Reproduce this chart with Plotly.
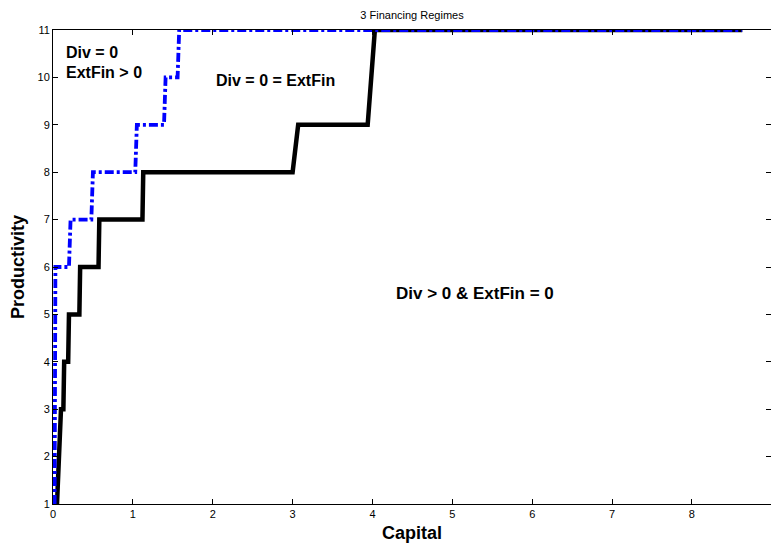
import plotly.graph_objects as go

# Capital thresholds separating the financing regimes, per productivity level
no_div_capital = [0.05, 0.08, 0.10, 0.13, 0.14, 0.19, 0.20, 0.33, 0.34, 0.57, 0.58,
                  1.12, 1.13, 3.00, 3.07, 3.94, 4.03, 8.63]
no_div_prod = [1, 2, 3, 3, 4, 4, 5, 5, 6, 6, 7, 7, 8, 8, 9, 9, 11, 11]

ext_fin_capital = [0.02, 0.03, 0.20, 0.22, 0.48, 0.50, 1.03, 1.05, 1.39, 1.41,
                   1.56, 1.58, 8.63]
ext_fin_prod = [1, 6, 6, 7, 7, 8, 8, 9, 9, 10, 10, 11, 11]

x_ticks = [0, 1, 2, 3, 4, 5, 6, 7, 8, 9]
y_ticks = [1, 2, 3, 4, 5, 6, 7, 8, 9, 10, 11]

FONT = "Liberation Sans, Arial, Helvetica, sans-serif"

fig = go.Figure()
fig.add_trace(go.Scatter(x=no_div_capital, y=no_div_prod, mode="lines",
                         line=dict(color="black", width=4.5),
                         showlegend=False, hoverinfo="skip"))
fig.add_trace(go.Scatter(x=ext_fin_capital, y=ext_fin_prod, mode="lines",
                         line=dict(color="#0000ff", width=3.8, dash="9px,3px,3px,3px"),
                         showlegend=False, hoverinfo="skip"))

label_font = dict(family=FONT, size=16, color="black")
fig.add_annotation(x=0.14, y=10.52, text="<b>Div = 0</b>", showarrow=False,
                   xanchor="left", yanchor="middle", font=label_font)
fig.add_annotation(x=0.14, y=10.11, text="<b>ExtFin > 0</b>", showarrow=False,
                   xanchor="left", yanchor="middle", font=label_font)
fig.add_annotation(x=2.79, y=9.94, text="<b>Div = 0 = ExtFin</b>", showarrow=False,
                   xanchor="center", yanchor="middle", font=label_font)
fig.add_annotation(x=5.28, y=5.45, text="<b>Div > 0 & ExtFin = 0</b>", showarrow=False,
                   xanchor="center", yanchor="middle", font=dict(family=FONT, size=17, color="black"))

axis_common = dict(showline=True, linecolor="black", linewidth=1, mirror="ticks",
                   ticks="inside", ticklen=5, tickwidth=1, tickcolor="black",
                   showgrid=False, zeroline=False,
                   tickfont=dict(family=FONT, size=11, color="black"))

fig.update_xaxes(range=[0, 8.99], tickvals=x_ticks, ticktext=[str(v) for v in x_ticks],
                 title=dict(text="<b>Capital</b>", font=dict(family=FONT, size=18, color="black"),
                            standoff=7),
                 **axis_common)
fig.update_yaxes(range=[1, 11], tickvals=y_ticks, ticktext=[str(v) for v in y_ticks],
                 title=dict(text="<b>Productivity</b>", font=dict(family=FONT, size=18, color="black"),
                            standoff=8),
                 **axis_common)

fig.update_layout(
    width=771, height=548,
    margin=dict(l=53, r=0, t=30, b=44),
    paper_bgcolor="white", plot_bgcolor="white",
    title=dict(text="3 Financing Regimes", x=412 / 771, xanchor="center",
               y=1 - 15 / 548, yanchor="middle",
               font=dict(family=FONT, size=11, color="black")),
)

fig.write_html("out.html")
